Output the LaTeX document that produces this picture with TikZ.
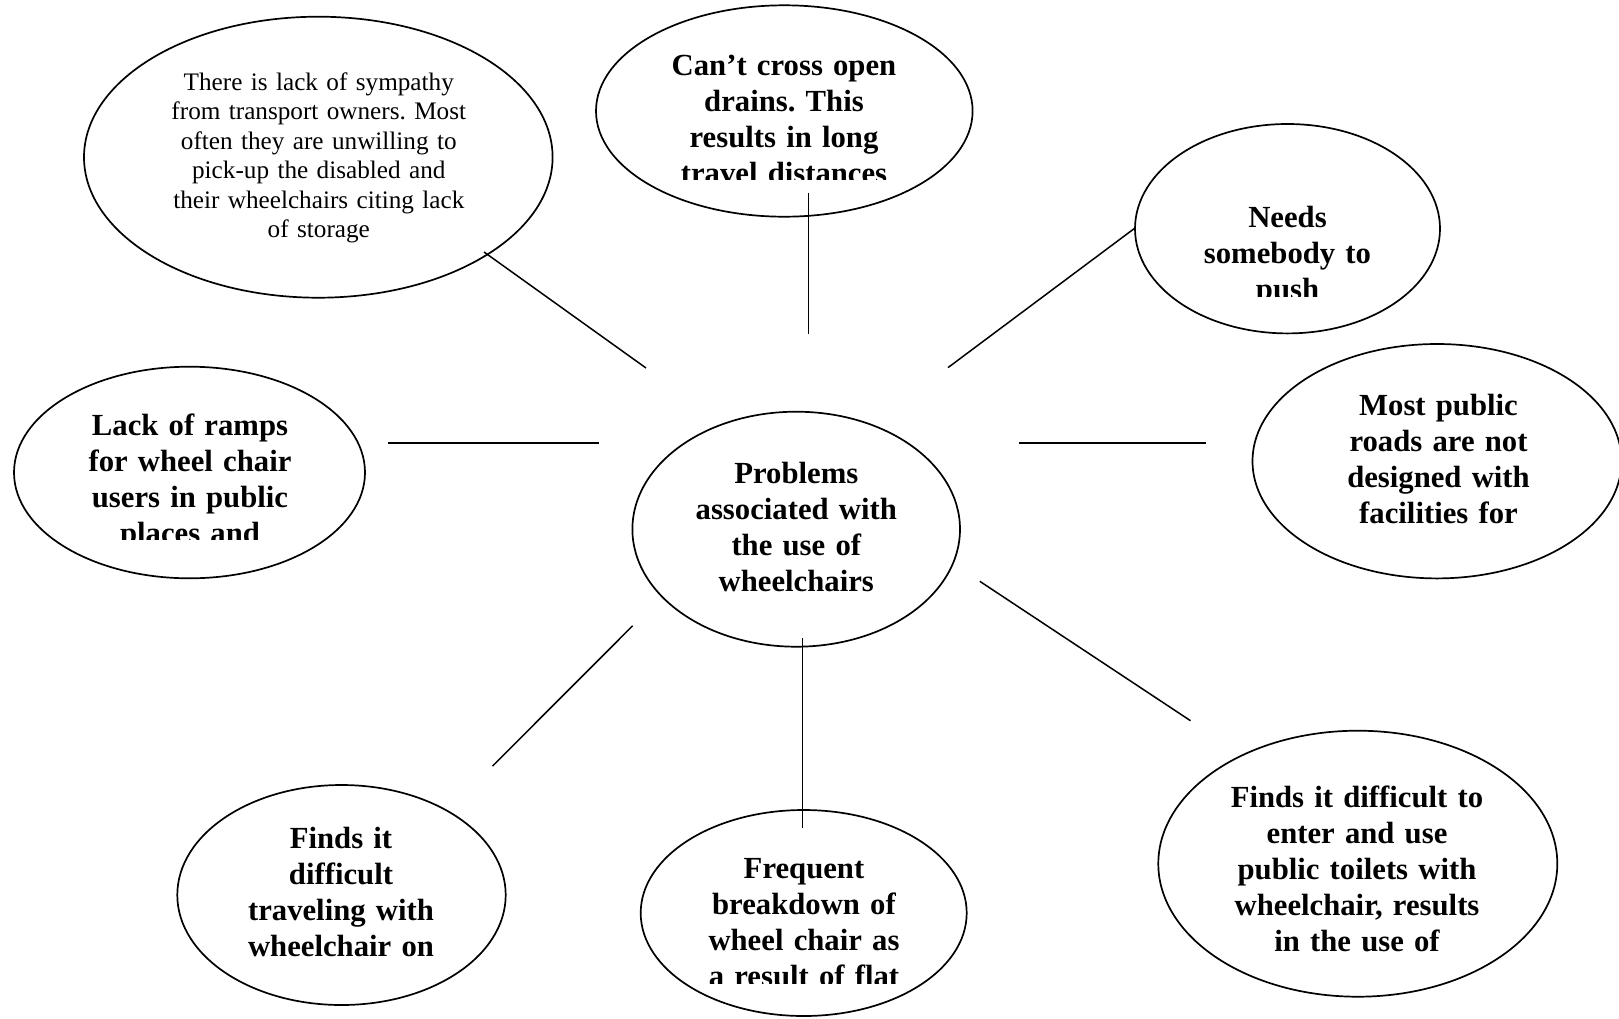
\documentclass[tikz,border=0pt]{standalone}
\usepackage{fontspec}
\setmainfont{Liberation Serif}
\usetikzlibrary{shapes.geometric}
\begin{document}
\frenchspacing
\begin{tikzpicture}[x=1pt,y=-1pt,
  bubble/.style={draw, ellipse, line width=1.7pt, inner sep=0pt},
  spoke/.style={line width=1.5pt},
  boldlabel/.style={anchor=base, inner sep=0pt, text width=360pt, align=center,
    font=\bfseries\fontsize{30.7}{36}\selectfont},
  plainlabel/.style={anchor=base, inner sep=0pt, text width=360pt, align=center,
    font=\fontsize{25.2}{29.4}\selectfont}]
\useasboundingbox (0,0) rectangle (1619,1018);

% ---- bubbles ----
\node[bubble, minimum width=468.6pt, minimum height=281pt] (sympathy) at (318.3,157.2) {};
\node[bubble, minimum width=376.6pt, minimum height=211.4pt] (drains) at (784.3,111) {};
\node[bubble, minimum width=305pt, minimum height=209.4pt] (push) at (1287.5,228.7) {};
\node[bubble, minimum width=369pt, minimum height=234.4pt] (roads) at (1437,461.2) {};
\node[bubble, minimum width=351pt, minimum height=211.6pt] (ramps) at (189.5,472.5) {};
\node[bubble, minimum width=327.6pt, minimum height=235pt] (core) at (796.2,529.2) {};
\node[bubble, minimum width=328.4pt, minimum height=220pt] (travel) at (341.5,895) {};
\node[bubble, minimum width=326pt, minimum height=206pt] (breakdown) at (803.7,913) {};
\node[bubble, minimum width=399pt, minimum height=266pt] (toilets) at (1357.8,863.7) {};

% ---- texts ----
\node[plainlabel] (sympathyText) at (318.8,90.5) {There is lack of sympathy\\from transport owners. Most\\often they are unwilling to\\pick-up the disabled and\\their wheelchairs citing lack\\of storage};

\begin{scope}
  \clip (560,20) rectangle (1010,179.3);
  \node[boldlabel] (drainsText) at (784,75.5) {Can’t cross open\\drains. This\\results in long\\travel distances};
\end{scope}

\begin{scope}
  \clip (1100,150) rectangle (1470,296.5);
  \node[boldlabel] (pushText) at (1287.5,227) {Needs\\somebody to\\push};
\end{scope}

\node[boldlabel] (roadsText) at (1438.5,415.5) {Most public\\roads are not\\designed with\\facilities for};

\begin{scope}
  \clip (0,380) rectangle (380,539.5);
  \node[boldlabel] (rampsText) at (190,435) {Lack of ramps\\for wheel chair\\users in public\\places and};
\end{scope}

\node[boldlabel] (coreText) at (796.3,483.5) {Problems\\associated with\\the use of\\wheelchairs};

\node[boldlabel] (travelText) at (341,848.3) {Finds it\\difficult\\traveling with\\wheelchair on};

\begin{scope}
  \clip (620,840) rectangle (990,983);
  \node[boldlabel] (breakdownText) at (804,878) {Frequent\\breakdown of\\wheel chair as\\a result of flat};
\end{scope}

\node[boldlabel] (toiletsText) at (1357,807) {Finds it difficult to\\enter and use\\public toilets with\\wheelchair, results\\in the use of};

% ---- spokes ----
\coordinate (s1a) at (484,252);    \coordinate (s1b) at (646,368);
\coordinate (s2a) at (808.5,193);  \coordinate (s2b) at (808.5,333.5);
\coordinate (s3a) at (1135,228);   \coordinate (s3b) at (948,367.6);
\coordinate (s4a) at (388.2,443);  \coordinate (s4b) at (598.9,443);
\coordinate (s5a) at (1019,443);   \coordinate (s5b) at (1206,443);
\coordinate (s6a) at (632.6,625.8);\coordinate (s6b) at (492.5,766.1);
\coordinate (s7a) at (802.5,638);  \coordinate (s7b) at (802.5,828);
\coordinate (s8a) at (979.8,581.3);\coordinate (s8b) at (1190.5,720.7);

\draw[spoke] (s1a) -- (s1b);
\draw[spoke] (s2a) -- (s2b);
\draw[spoke] (s3a) -- (s3b);
\draw[spoke] (s4a) -- (s4b);
\draw[spoke] (s5a) -- (s5b);
\draw[spoke] (s6a) -- (s6b);
\draw[spoke] (s7a) -- (s7b);
\draw[spoke] (s8a) -- (s8b);
\end{tikzpicture}
\end{document}
